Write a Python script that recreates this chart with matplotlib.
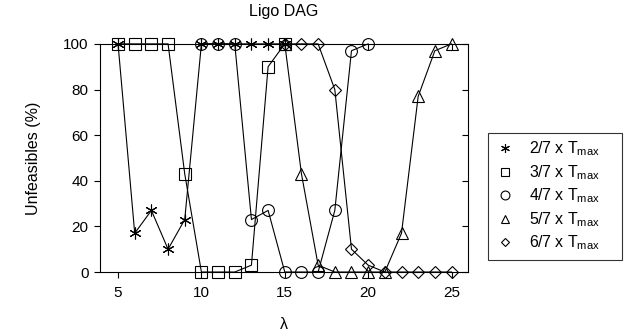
import matplotlib
matplotlib.use("Agg")
import matplotlib.pyplot as plt

plt.rcParams['font.family'] = ['Liberation Sans', 'DejaVu Sans']
plt.rcParams['mathtext.fontset'] = 'custom'
plt.rcParams['mathtext.rm'] = 'Liberation Sans'

# data
x_27 = [5, 6, 7, 8, 9, 10, 11, 12, 13, 14, 15]
y_27 = [100, 17, 27, 10, 23, 100, 100, 100, 100, 100, 100]

x_37 = [5, 6, 7, 8, 9, 10, 11, 12, 13, 14, 15]
y_37 = [100, 100, 100, 100, 43, 0, 0, 0, 3, 90, 100]

x_47 = [10, 11, 12, 13, 14, 15, 16, 17, 18, 19, 20]
y_47 = [100, 100, 100, 23, 27, 0, 0, 0, 27, 97, 100]

x_57 = [15, 16, 17, 18, 19, 20, 21, 22, 23, 24, 25]
y_57 = [100, 43, 3, 0, 0, 0, 0, 17, 77, 97, 100]

x_67 = [15, 16, 17, 18, 19, 20, 21, 22, 23, 24, 25]
y_67 = [100, 100, 100, 80, 10, 3, 0, 0, 0, 0, 0]

labels = [r'2/7 x T$_{\mathregular{max}}$', r'3/7 x T$_{\mathregular{max}}$',
          r'4/7 x T$_{\mathregular{max}}$', r'5/7 x T$_{\mathregular{max}}$',
          r'6/7 x T$_{\mathregular{max}}$']
markers = [(6, 2, 0), 's', 'o', '^', 'D']
sizes = [8.5, 8, 8.5, 8, 6]

fig = plt.figure(figsize=(6.31, 3.35), dpi=100)
ax = fig.add_axes([0.158, 0.188, 0.584, 0.681])

series = [(x_27, y_27), (x_37, y_37), (x_47, y_47), (x_57, y_57), (x_67, y_67)]
for (xs, ys), m, s, lab in zip(series, markers, sizes, labels):
    ax.plot(xs, ys, color='black', lw=0.8, marker=m, markersize=s,
            markerfacecolor='none', markeredgecolor='black', markeredgewidth=0.8,
            label=lab, clip_on=False)

ax.set_xlim(3.9, 26)
ax.set_ylim(0, 100)
ax.set_xticks([5, 10, 15, 20, 25])
ax.set_yticks([0, 20, 40, 60, 80, 100])
ax.tick_params(axis='both', labelsize=11, length=4, width=0.8)
ax.tick_params(axis='x', direction='out', pad=6)
ax.tick_params(axis='y', direction='out', pad=4)
# mirrored inward ticks on top and right
ax.tick_params(which='both', top=True, right=True)
for t in ax.xaxis.get_major_ticks():
    t.tick2line.set_marker(3)
for t in ax.yaxis.get_major_ticks():
    t.tick2line.set_marker(0)
for sp in ax.spines.values():
    sp.set_linewidth(0.8)

ax.set_title('Ligo DAG', fontsize=11.5, pad=20)
ax.set_xlabel('λ', fontsize=11.5, labelpad=12)
ax.set_ylabel('Unfeasibles (%)', fontsize=11.5, labelpad=16)

# legend box stretched to the width seen in the reference
leg = ax.legend(loc='center left', bbox_to_anchor=(1.054, 0.323, 0.364, 0.02),
                mode='expand', borderaxespad=0, fontsize=11.5,
                frameon=True, fancybox=False, edgecolor='black',
                handlelength=1.2, handletextpad=0.9, borderpad=0.45,
                labelspacing=0.3)
leg.get_frame().set_linewidth(0.8)
for h in leg.legend_handles:
    h.set_linestyle('none')
    h.set_markersize(h.get_markersize() * 0.75)

fig.savefig('out.png', dpi=100)
